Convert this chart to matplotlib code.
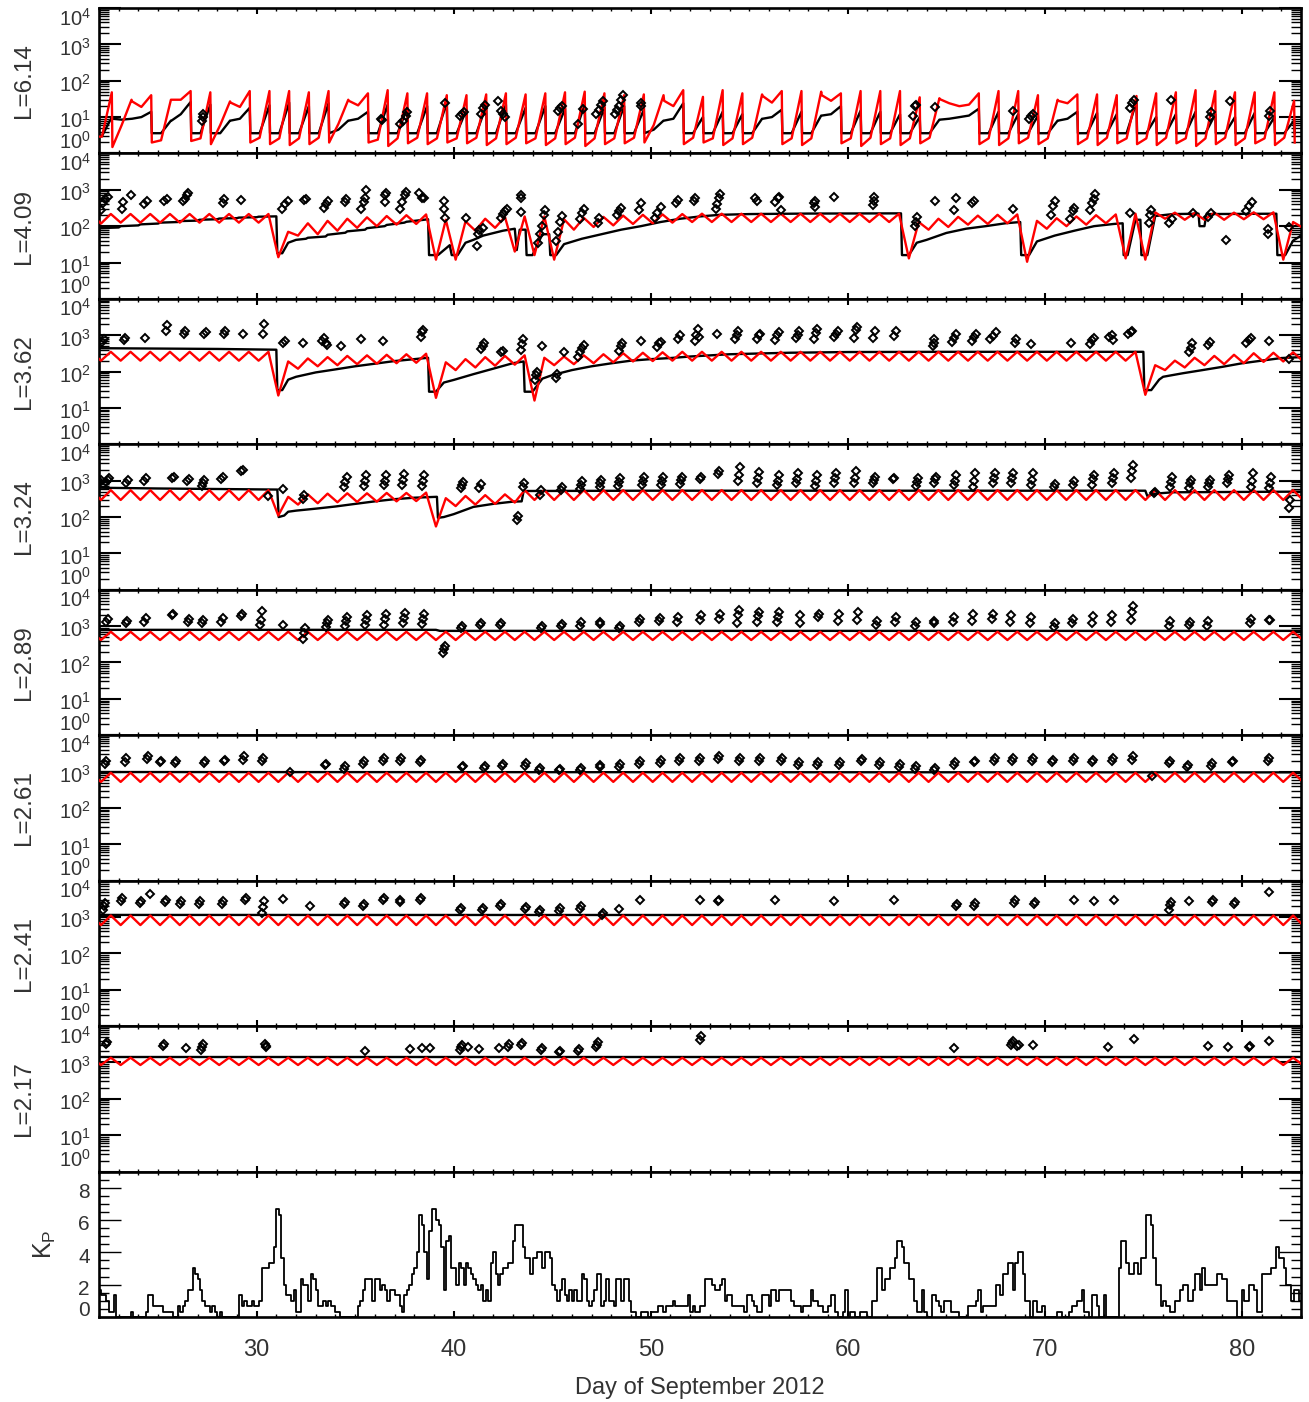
import numpy as np
import matplotlib
matplotlib.use("Agg")
import matplotlib.pyplot as plt
from matplotlib.ticker import MultipleLocator, LogLocator, NullFormatter

plt.rcParams['font.family'] = ['Liberation Sans', 'DejaVu Sans']
plt.rcParams['mathtext.fontset'] = 'custom'
plt.rcParams['mathtext.rm'] = 'Liberation Sans'
plt.rcParams['mathtext.it'] = 'Liberation Sans:italic'
plt.rcParams['mathtext.bf'] = 'Liberation Sans:bold'

TXT = '#333333'

# ---------------- data ----------------
panel_names = ['L=6.14', 'L=4.09', 'L=3.62', 'L=3.24', 'L=2.89', 'L=2.61', 'L=2.41', 'L=2.17']

# L=6.14: one injection cycle per day, peak at 21.65 + j  (value before rise, peak, value just after drop)
red_614_base = [2.9, 2.9, 6, 19, 2.3, 30, 2.6, 6, 19, 2.7,
                2.6, 2.6, 2.7, 6.5, 21, 2.4, 2.6, 2.7, 2.6, 2.6,
                2.7, 2.6, 2.7, 2.6, 2.6, 2.7, 2.6, 2.6, 2.7, 6,
                20, 2.7, 2.6, 2.6, 2.7, 25, 2.6, 2.6, 28, 2.6,
                2.7, 2.6, 2.6, 2.7, 24, 22, 2.6, 2.6, 2.7, 2.6,
                24, 2.6, 2.7, 2.6, 2.6, 2.7, 2.6, 2.6, 2.7, 2.6,
                2.6, 2.7]
red_614_peak = [3.0, 48, 30, 40, 30, 52, 48, 27, 52, 52,
                52, 48, 52, 30, 45, 55, 45, 45, 40, 40,
                42, 45, 42, 45, 48, 50, 45, 40, 42, 40,
                55, 36, 55, 45, 42, 52, 52, 50, 45, 52,
                52, 52, 35, 33, 20, 45, 52, 52, 40, 30,
                42, 42, 40, 38, 45, 48, 55, 52, 48, 48,
                48, 28]
red_614_low = [2.9, 1.5, 27, 2.0, 30, 2.2, 1.8, 25, 2.0, 1.8,
               1.7, 1.8, 2.0, 28, 2.0, 1.6, 1.9, 1.8, 2.0, 1.9,
               1.7, 1.8, 1.9, 1.7, 1.8, 1.6, 1.8, 1.9, 2.0, 28,
               1.8, 2.0, 1.7, 1.8, 38, 1.8, 1.7, 40, 1.9, 1.6,
               1.8, 1.7, 1.9, 31, 20, 1.8, 1.7, 1.9, 1.8, 28,
               1.8, 1.7, 1.9, 1.8, 1.7, 1.9, 1.6, 1.8, 1.7, 1.9,
               1.7, 2.0]
black_614_base = [3.0, 3.0, 8.5, 10, 3.6, 12, 3.6, 3.6, 9, 3.6,
                  3.6, 3.6, 3.6, 4.5, 9, 3.6, 3.6, 3.6, 3.6, 3.6,
                  3.6, 3.6, 3.6, 3.6, 3.6, 3.6, 3.6, 3.6, 3.6, 4.5,
                  9, 3.6, 3.6, 3.6, 3.6, 10, 3.6, 3.6, 12, 3.6,
                  3.6, 3.6, 3.6, 3.6, 9, 11, 3.6, 3.6, 3.6, 3.6,
                  9, 3.6, 3.6, 3.6, 3.6, 3.6, 3.6, 3.6, 3.6, 3.6,
                  3.6, 3.6]
black_614_peak = [3.0, 10, 9, 14, 8, 26, 22, 8, 18, 21,
                  25, 20, 24, 8, 14, 22, 18, 20, 25, 16,
                  20, 22, 18, 20, 17, 22, 18, 20, 16, 8,
                  24, 10, 14, 12, 9, 16, 14, 11, 20, 15,
                  14, 12, 10, 8.5, 10, 17, 14, 12, 11, 8,
                  14, 13, 12, 26, 10, 12, 14, 12, 10, 13,
                  10, 8]
black_614_low = [3.0, 9, 9, 3.6, 8, 3.6, 3.6, 8, 3.6, 3.6,
                 3.6, 3.6, 3.6, 8, 3.6, 3.6, 3.6, 3.6, 3.6, 3.6,
                 3.6, 3.6, 3.6, 3.6, 3.6, 3.6, 3.6, 3.6, 3.6, 8,
                 3.6, 3.6, 3.6, 3.6, 9, 3.6, 3.6, 11, 3.6, 3.6,
                 3.6, 3.6, 3.6, 8.5, 10, 3.6, 3.6, 3.6, 3.6, 8,
                 3.6, 3.6, 3.6, 3.6, 3.6, 3.6, 3.6, 3.6, 3.6, 3.6,
                 3.6, 3.6]

# inner shells: red model, maxima at 21.6 + j, minima at 22.1 + j
red_409_pk = [216, 216, 216, 216, 216, 216, 216, 216, 216, 216,
              70, 120, 140, 160, 175, 190, 200, 210, 150, 135,
              160, 180, 185, 185, 155, 170, 180, 195, 205, 210,
              215, 220, 220, 220, 220, 220, 220, 220, 220, 220,
              220, 220, 130, 160, 180, 195, 205, 210, 140, 165,
              185, 200, 210, 220, 240, 235, 230, 235, 235, 240,
              240, 130]
red_409_tr = [118, 125, 125, 125, 125, 125, 125, 125, 125, 14,
              55, 60, 75, 90, 100, 110, 115, 12, 12, 75,
              90, 20, 16, 12, 80, 95, 105, 115, 120, 125,
              130, 130, 130, 130, 130, 130, 130, 130, 130, 130,
              130, 13, 80, 95, 110, 115, 120, 10.5, 85, 100,
              110, 120, 13, 12, 160, 150, 150, 150, 155, 155,
              12, 90]
red_362_pk = [350, 350, 350, 350, 350, 350, 350, 350, 350, 350,
              190, 230, 250, 270, 280, 290, 300, 310, 180, 220,
              250, 270, 280, 240, 260, 280, 300, 320, 330, 340,
              350, 350, 350, 350, 350, 350, 350, 350, 350, 350,
              350, 350, 350, 350, 350, 350, 350, 350, 350, 350,
              350, 350, 350, 350, 150, 200, 240, 270, 290, 320,
              330, 340]
red_362_tr = [200, 200, 200, 200, 200, 200, 200, 200, 200, 22,
              120, 140, 150, 160, 165, 170, 175, 19, 110, 130,
              145, 155, 16, 150, 160, 170, 180, 190, 195, 200,
              200, 200, 200, 200, 200, 200, 200, 200, 200, 200,
              200, 200, 200, 200, 200, 200, 200, 200, 200, 200,
              200, 200, 200, 23, 110, 130, 150, 160, 170, 185,
              190, 195]
red_324_pk = [550, 550, 550, 550, 550, 550, 550, 550, 550, 550,
              360, 420, 440, 450, 450, 460, 460, 470, 330, 380,
              400, 420, 550, 550, 550, 550, 550, 550, 550, 550,
              550, 550, 550, 550, 550, 550, 550, 550, 550, 550,
              550, 550, 550, 550, 550, 550, 550, 550, 550, 550,
              550, 550, 550, 550, 550, 550, 550, 550, 550, 550,
              550, 550]
red_324_tr = [295, 295, 295, 295, 295, 295, 295, 295, 295, 110,
              220, 240, 255, 260, 265, 270, 275, 55, 200, 220,
              230, 250, 295, 295, 295, 295, 295, 295, 295, 295,
              295, 295, 295, 295, 295, 295, 295, 295, 295, 295,
              295, 295, 295, 295, 295, 295, 295, 295, 295, 295,
              295, 295, 295, 295, 295, 295, 295, 295, 295, 295,
              295, 295]
red_289_pk = [700, 700, 700, 700, 700, 700, 700, 700, 700, 700,
              700, 700, 700, 700, 700, 700, 700, 700, 700, 700,
              700, 700, 700, 700, 700, 700, 700, 700, 700, 700,
              700, 700, 700, 700, 700, 700, 700, 700, 700, 700,
              700, 700, 700, 700, 700, 700, 700, 700, 700, 700,
              700, 700, 700, 700, 700, 700, 700, 700, 700, 700,
              700, 700]
red_289_tr = [415, 415, 415, 415, 415, 415, 415, 415, 415, 415,
              415, 415, 415, 415, 415, 415, 415, 415, 415, 415,
              415, 415, 415, 415, 415, 415, 415, 415, 415, 415,
              415, 415, 415, 415, 415, 415, 415, 415, 415, 415,
              415, 415, 415, 415, 415, 415, 415, 415, 415, 415,
              415, 415, 415, 415, 415, 415, 415, 415, 415, 415,
              415, 415]
red_261_pk = [930, 930, 930, 930, 930, 930, 930, 930, 930, 930,
              930, 930, 930, 930, 930, 930, 930, 930, 930, 930,
              930, 930, 930, 930, 930, 930, 930, 930, 930, 930,
              930, 930, 930, 930, 930, 930, 930, 930, 930, 930,
              930, 930, 930, 930, 930, 930, 930, 930, 930, 930,
              930, 930, 930, 930, 930, 930, 930, 930, 930, 930,
              930, 930]
red_261_tr = [520, 520, 520, 520, 520, 520, 520, 520, 520, 520,
              520, 520, 520, 520, 520, 520, 520, 520, 520, 520,
              520, 520, 520, 520, 520, 520, 520, 520, 520, 520,
              520, 520, 520, 520, 520, 520, 520, 520, 520, 520,
              520, 520, 520, 520, 520, 520, 520, 520, 520, 520,
              520, 520, 520, 520, 520, 520, 520, 520, 520, 520,
              520, 520]
red_241_pk = [1100, 1100, 1100, 1100, 1100, 1100, 1100, 1100, 1100, 1100,
              1100, 1100, 1100, 1100, 1100, 1100, 1100, 1100, 1100, 1100,
              1100, 1100, 1100, 1100, 1100, 1100, 1100, 1100, 1100, 1100,
              1100, 1100, 1100, 1100, 1100, 1100, 1100, 1100, 1100, 1100,
              1100, 1100, 1100, 1100, 1100, 1100, 1100, 1100, 1100, 1100,
              1100, 1100, 1100, 1100, 1100, 1100, 1100, 1100, 1100, 1100,
              1100, 1100]
red_241_tr = [600, 600, 600, 600, 600, 600, 600, 600, 600, 600,
              600, 600, 600, 600, 600, 600, 600, 600, 600, 600,
              600, 600, 600, 600, 600, 600, 600, 600, 600, 600,
              600, 600, 600, 600, 600, 600, 600, 600, 600, 600,
              600, 600, 600, 600, 600, 600, 600, 600, 600, 600,
              600, 600, 600, 600, 600, 600, 600, 600, 600, 600,
              600, 600]
red_217_pk = [1350, 1350, 1350, 1350, 1350, 1350, 1350, 1350, 1350, 1350,
              1350, 1350, 1350, 1350, 1350, 1350, 1350, 1350, 1350, 1350,
              1350, 1350, 1350, 1350, 1350, 1350, 1350, 1350, 1350, 1350,
              1350, 1350, 1350, 1350, 1350, 1350, 1350, 1350, 1350, 1350,
              1350, 1350, 1350, 1350, 1350, 1350, 1350, 1350, 1350, 1350,
              1350, 1350, 1350, 1350, 1350, 1350, 1350, 1350, 1350, 1350,
              1350, 1350]
red_217_tr = [850, 850, 850, 850, 850, 850, 850, 850, 850, 850,
              850, 850, 850, 850, 850, 850, 850, 850, 850, 850,
              850, 850, 850, 850, 850, 850, 850, 850, 850, 850,
              850, 850, 850, 850, 850, 850, 850, 850, 850, 850,
              850, 850, 850, 850, 850, 850, 850, 850, 850, 850,
              850, 850, 850, 850, 850, 850, 850, 850, 850, 850,
              850, 850]

# black model, (day, flux) breakpoints
black_409 = [(22.0, 88), (23.0, 92), (23.1, 100), (24.0, 105), (24.1, 112), (25.0, 118), (25.1, 125),
             (26.0, 130), (26.1, 138), (27.0, 142), (27.1, 150), (28.0, 155), (28.1, 162), (29.0, 166),
             (29.1, 172), (30.0, 176), (30.1, 182), (31.0, 186), (31.05, 18), (31.3, 18), (31.6, 35),
             (32.0, 42), (32.5, 45), (32.6, 48), (33.5, 52), (33.6, 58), (34.5, 66), (34.6, 72),
             (35.5, 80), (35.6, 88), (36.5, 100), (36.6, 108), (37.5, 125), (37.6, 132), (38.5, 150),
             (38.7, 155), (38.75, 16), (39.2, 16), (39.8, 30), (39.9, 16), (40.2, 16), (40.6, 35),
             (41.0, 42), (41.5, 55), (42.5, 75), (43.1, 85), (43.2, 22), (43.35, 80), (43.65, 80),
             (43.7, 16), (44.0, 16), (44.5, 60), (44.85, 60), (44.9, 16), (45.2, 16), (45.6, 32),
             (46.5, 45), (47.5, 60), (48.5, 80), (49.5, 100), (50.5, 130), (51.5, 160), (52.5, 185),
             (53.5, 205), (55.0, 215), (58.0, 222), (62.7, 225), (62.75, 16), (63.1, 16), (63.5, 35),
             (64.0, 42), (65.0, 65), (66.0, 85), (67.0, 100), (68.0, 120), (68.75, 130), (68.8, 16),
             (69.2, 16), (69.6, 38), (70.5, 55), (71.5, 75), (72.5, 100), (73.5, 115), (73.95, 120),
             (74.0, 16), (74.2, 16), (74.6, 150), (74.85, 150), (74.9, 16), (75.2, 16), (75.6, 190),
             (76.5, 215), (77.8, 220), (77.85, 100), (78.1, 100), (78.2, 215), (81.75, 220),
             (81.8, 16), (82.2, 16), (82.6, 40), (83.0, 55)]
black_362 = [(22.0, 440), (25.0, 430), (28.0, 420), (31.0, 400), (31.05, 31), (31.3, 31), (31.6, 60),
             (32.0, 72), (33.0, 95), (34.0, 115), (35.0, 140), (36.0, 165), (37.0, 195), (38.0, 220),
             (38.7, 240), (38.75, 28), (39.1, 28), (39.5, 50), (40.0, 59), (41.0, 85), (42.0, 120),
             (43.0, 170), (43.55, 190), (43.6, 28), (44.0, 28), (44.5, 64), (45.0, 80), (46.0, 110),
             (47.0, 140), (48.0, 169), (49.0, 200), (50.0, 220), (51.0, 236), (52.0, 260), (54.0, 300),
             (57.0, 330), (60.0, 345), (65.0, 350), (75.0, 350), (75.05, 31), (75.4, 31), (75.8, 60),
             (76.0, 72), (77.0, 90), (78.0, 110), (79.0, 135), (80.0, 169), (81.0, 200), (82.0, 236),
             (83.0, 250)]
black_324 = [(22.0, 640), (25.0, 610), (28.0, 590), (31.05, 570), (31.12, 100), (31.4, 110), (31.6, 140),
             (32.0, 150), (33.0, 170), (34.0, 195), (35.0, 230), (36.0, 270), (37.0, 310), (38.0, 340),
             (39.15, 360), (39.2, 95), (39.5, 100), (40.0, 120), (41.0, 190), (42.0, 230), (43.0, 265),
             (43.45, 270), (43.55, 520), (50.0, 530), (60.0, 530), (75.1, 530), (75.2, 380),
             (75.6, 440), (76.5, 480), (83.0, 500)]
black_289 = [(22.0, 790), (39.1, 790), (39.3, 740), (83.0, 740)]
black_261 = [(22.0, 970), (83.0, 950)]
black_241 = [(22.0, 1140), (83.0, 1130)]
black_217 = [(22.0, 1380), (83.0, 1380)]

# observed fluxes (day, flux)
obs_614 = [(27.25, 8), (27.28, 10), (27.3, 12), (36.3, 9), (36.35, 8.5), (37.3, 6.5), (37.45, 8),
           (37.6, 11), (37.65, 13.5), (39.57, 25), (40.3, 11), (40.4, 12), (40.5, 14), (41.4, 12),
           (41.5, 18), (41.6, 22), (42.25, 28), (42.4, 15), (42.5, 12), (42.6, 10), (45.3, 15),
           (45.4, 18), (45.5, 20), (46.3, 6.3), (46.58, 16.5), (47.2, 12), (47.35, 16), (47.5, 22),
           (47.6, 28), (48.2, 12), (48.3, 16), (48.4, 20), (48.5, 30), (48.6, 40), (49.5, 20),
           (49.52, 25), (63.3, 11), (63.4, 20), (63.45, 22), (64.45, 19), (68.4, 15), (69.2, 9),
           (69.3, 10.5), (69.4, 12), (74.3, 18), (74.4, 25), (74.5, 30), (76.4, 29), (78.4, 10),
           (78.45, 14), (79.4, 27), (81.4, 11), (81.42, 15)]
obs_409 = [(22.1, 280), (22.2, 420), (22.3, 560), (22.45, 650), (23.15, 290), (23.2, 450), (23.6, 720),
           (24.3, 400), (24.45, 480), (25.3, 500), (25.45, 560), (26.25, 480), (26.35, 560), (26.45, 700),
           (26.5, 800), (28.3, 430), (28.32, 560), (29.2, 520), (31.3, 300), (31.45, 400), (31.6, 500),
           (32.4, 520), (32.5, 560), (33.4, 320), (33.5, 400), (33.6, 480), (34.5, 450), (34.52, 550),
           (35.3, 300), (35.45, 450), (35.5, 600), (35.55, 980), (36.5, 450), (36.52, 700), (36.55, 820),
           (37.3, 300), (37.4, 450), (37.55, 700), (37.6, 880), (38.25, 800), (38.4, 600), (38.5, 580),
           (39.5, 500), (39.52, 300), (39.55, 170), (40.6, 165), (41.2, 28), (41.25, 60), (41.3, 80),
           (41.5, 90), (42.4, 170), (42.5, 210), (42.6, 260), (42.7, 300), (43.4, 250), (43.41, 600),
           (43.42, 700), (44.3, 35), (44.4, 60), (44.5, 100), (44.6, 200), (44.65, 280), (45.2, 40),
           (45.3, 70), (45.4, 130), (45.5, 190), (46.4, 160), (46.5, 230), (46.6, 300), (47.3, 120),
           (47.35, 170), (48.3, 200), (48.4, 260), (48.5, 320), (49.4, 270), (49.5, 420), (50.2, 170),
           (50.3, 230), (50.5, 330), (51.3, 420), (51.4, 520), (52.2, 480), (52.25, 600), (53.3, 300),
           (53.35, 400), (53.45, 600), (53.5, 750), (55.3, 580), (55.4, 480), (56.3, 450), (56.45, 600),
           (56.5, 620), (56.6, 280), (58.3, 420), (58.32, 480), (58.35, 330), (59.3, 650), (61.3, 380),
           (61.32, 500), (61.35, 620), (63.4, 100), (63.45, 130), (63.5, 180), (64.45, 480), (65.4, 280),
           (65.5, 600), (66.3, 420), (66.4, 480), (68.4, 300), (70.3, 200), (70.4, 350), (70.5, 480),
           (71.3, 160), (71.45, 260), (71.5, 320), (72.3, 280), (72.4, 420), (72.5, 560), (72.55, 780),
           (74.3, 230), (75.3, 120), (75.35, 200), (75.4, 280), (76.3, 120), (76.45, 160), (77.5, 230),
           (78.3, 180), (78.45, 230), (79.2, 42), (80.2, 260), (80.35, 350), (80.5, 450), (81.3, 62),
           (81.35, 85), (82.4, 95)]
obs_362 = [(22.15, 650), (22.25, 800), (23.25, 760), (23.3, 830), (24.35, 840), (25.4, 1350), (25.45, 1900),
           (26.3, 1100), (26.35, 1300), (27.35, 1100), (27.45, 1250), (28.35, 1050), (28.4, 1300),
           (29.3, 1100), (30.3, 1100), (30.35, 2100), (31.35, 600), (31.45, 680), (32.35, 630),
           (33.3, 700), (33.4, 830), (33.5, 600), (33.55, 550), (34.3, 520), (35.3, 780), (36.4, 700),
           (38.35, 900), (38.4, 1200), (38.45, 1400), (41.4, 420), (41.5, 520), (41.55, 600), (42.4, 350),
           (42.5, 380), (43.4, 400), (43.45, 580), (43.5, 780), (44.15, 60), (44.2, 80), (44.25, 100),
           (44.5, 520), (45.2, 65), (45.25, 85), (45.6, 340), (46.3, 250), (46.4, 340), (46.5, 450),
           (46.6, 550), (48.4, 380), (48.5, 500), (48.55, 600), (49.5, 680), (50.3, 480), (50.4, 600),
           (50.5, 650), (51.4, 800), (51.5, 1000), (52.25, 700), (52.3, 1000), (52.4, 1500), (52.45, 900),
           (53.35, 1100), (54.3, 800), (54.4, 1000), (54.45, 1300), (55.4, 800), (55.5, 1000), (55.55, 1100),
           (56.3, 750), (56.4, 1000), (56.5, 1250), (57.35, 850), (57.45, 1000), (57.5, 1300), (58.3, 800),
           (58.4, 1150), (58.45, 1500), (59.3, 900), (59.4, 1050), (59.5, 1300), (60.3, 850), (60.4, 1400),
           (60.45, 1700), (61.3, 850), (61.4, 1300), (62.35, 950), (62.45, 1300), (64.3, 520), (64.35, 600),
           (64.4, 780), (65.3, 650), (65.4, 850), (65.5, 1100), (66.3, 700), (66.4, 900), (66.5, 1100),
           (67.2, 780), (67.35, 950), (67.5, 1200), (68.5, 620), (68.52, 800), (69.3, 580), (71.35, 600),
           (72.3, 560), (72.4, 720), (72.5, 850), (73.25, 900), (73.4, 1000), (73.45, 750), (74.2, 1050),
           (74.35, 1200), (74.4, 1350), (77.3, 350), (77.4, 450), (77.45, 600), (78.3, 550), (78.4, 650),
           (80.2, 620), (80.35, 750), (80.45, 850), (81.4, 680), (82.4, 220)]
obs_324 = [(22.05, 900), (22.1, 1050), (22.35, 900), (22.45, 1050), (22.5, 1150), (23.35, 850), (23.45, 1050),
           (24.3, 950), (24.4, 1150), (25.7, 1150), (25.8, 1300), (26.45, 950), (26.55, 1100), (27.25, 700),
           (27.3, 850), (27.35, 1050), (28.2, 1100), (28.3, 1300), (29.2, 1800), (29.3, 2000), (30.6, 380),
           (31.35, 600), (32.35, 320), (32.4, 400), (34.45, 650), (34.5, 900), (34.6, 1300), (35.45, 700),
           (35.5, 950), (35.55, 1400), (36.45, 750), (36.5, 1000), (36.55, 1450), (37.4, 750), (37.45, 1050),
           (37.5, 1550), (38.4, 700), (38.45, 950), (38.5, 1400), (40.35, 620), (40.4, 760), (40.45, 900),
           (41.3, 620), (41.4, 800), (43.2, 85), (43.25, 110), (43.5, 690), (43.55, 850), (44.4, 400),
           (44.45, 550), (45.45, 560), (45.5, 690), (46.4, 600), (46.45, 750), (46.5, 950), (47.4, 650),
           (47.45, 850), (47.5, 1050), (48.35, 700), (48.4, 900), (48.45, 1150), (49.55, 750), (49.6, 1000),
           (49.65, 1300), (50.5, 760), (50.55, 1000), (50.6, 1300), (51.5, 800), (51.55, 1050), (51.6, 1300),
           (52.5, 1100), (52.55, 1300), (53.4, 1500), (53.45, 1800), (54.45, 1000), (54.5, 1400),
           (54.55, 2400), (55.4, 850), (55.45, 1200), (55.5, 1700), (56.4, 760), (56.45, 1000), (56.5, 1450),
           (57.35, 850), (57.4, 1100), (57.45, 1600), (58.35, 700), (58.4, 1000), (58.45, 1450), (59.3, 850),
           (59.35, 1150), (59.4, 1600), (60.3, 850), (60.35, 1200), (60.4, 1800), (61.3, 850), (61.35, 1050),
           (61.4, 1300), (62.3, 1100), (62.35, 1200), (63.45, 700), (63.5, 900), (63.55, 1150), (64.4, 850),
           (64.45, 1100), (64.5, 1300), (65.4, 760), (65.45, 1000), (65.5, 1450), (66.35, 690), (66.4, 950),
           (66.45, 1600), (67.35, 850), (67.4, 1200), (67.45, 1600), (68.3, 850), (68.35, 1150), (68.4, 1600),
           (69.3, 760), (69.35, 1050), (69.4, 1600), (70.45, 690), (70.5, 800), (71.45, 760), (71.5, 950),
           (72.4, 760), (72.45, 1100), (72.5, 1450), (73.4, 850), (73.45, 1200), (73.5, 1600), (74.35, 1150),
           (74.4, 1800), (74.45, 2700), (75.55, 450), (75.6, 500), (76.35, 690), (76.4, 900), (76.45, 1300),
           (77.3, 620), (77.35, 850), (77.4, 1050), (78.3, 690), (78.35, 850), (78.4, 1050), (79.25, 850),
           (79.3, 1100), (79.35, 1450), (80.45, 690), (80.5, 1000), (80.55, 1600), (81.4, 620), (81.45, 850),
           (81.5, 1300), (82.4, 180), (82.45, 300)]
obs_289 = [(22.35, 1300), (22.45, 1600), (23.35, 1200), (23.4, 1400), (24.3, 1300), (24.4, 1700),
           (25.7, 2000), (25.75, 2200), (26.5, 1300), (26.55, 1600), (27.25, 1250), (27.3, 1500),
           (28.2, 1300), (28.3, 1700), (29.2, 1900), (29.25, 2100), (30.15, 1100), (30.2, 1500),
           (30.25, 2600), (31.35, 1100), (32.35, 450), (32.4, 650), (32.45, 900), (33.5, 950),
           (33.55, 1250), (33.6, 1450), (34.5, 1000), (34.55, 1400), (34.6, 1800), (35.5, 1050),
           (35.55, 1500), (35.6, 2000), (36.45, 1100), (36.5, 1600), (36.55, 2100), (37.45, 1200),
           (37.5, 1700), (37.55, 2300), (38.4, 1150), (38.45, 1600), (38.5, 2100), (39.45, 180),
           (39.5, 230), (39.55, 290), (40.35, 880), (40.4, 1000), (41.35, 1050), (41.4, 1200),
           (42.35, 1050), (42.4, 1200), (44.45, 880), (44.5, 1000), (45.45, 1000), (45.5, 1150),
           (46.4, 1000), (46.45, 1300), (47.4, 1150), (47.45, 1300), (48.4, 900), (48.45, 1000),
           (49.4, 1300), (49.45, 1600), (50.4, 1350), (50.45, 1700), (51.35, 1300), (51.4, 1800),
           (52.5, 1450), (52.55, 2000), (53.45, 1600), (53.5, 2100), (54.4, 1250), (54.45, 2000),
           (54.5, 2700), (55.4, 1300), (55.45, 1900), (55.5, 2500), (56.4, 1300), (56.45, 1800),
           (56.5, 2500), (57.55, 1250), (57.6, 2000), (58.5, 1800), (58.55, 2200), (59.5, 1400),
           (59.55, 2200), (60.45, 1500), (60.5, 2400), (61.45, 1100), (61.5, 1400), (62.4, 1300),
           (62.45, 1800), (63.4, 1000), (63.45, 1300), (64.35, 1200), (64.4, 1400), (65.35, 1300),
           (65.4, 1800), (66.3, 1350), (66.35, 2200), (67.3, 1600), (67.35, 2200), (68.25, 1300),
           (68.3, 2000), (69.25, 1250), (69.3, 1800), (70.45, 960), (70.5, 1250), (71.4, 1200),
           (71.45, 1600), (72.4, 1200), (72.45, 1900), (73.35, 1300), (73.4, 2000), (74.35, 1500),
           (74.4, 2500), (74.45, 3500), (76.3, 1000), (76.35, 1400), (77.3, 1100), (77.35, 1300),
           (78.25, 1000), (78.3, 1400), (80.4, 1200), (80.45, 1600), (81.4, 1450), (81.45, 1500)]
obs_261 = [(22.3, 1600), (22.35, 2000), (23.3, 1800), (23.35, 2300), (24.45, 2200), (24.5, 2600),
           (25.1, 1800), (25.15, 2000), (25.85, 1700), (25.9, 1900), (27.35, 1750), (27.4, 1900),
           (28.35, 1900), (28.4, 2100), (29.3, 2100), (29.35, 2600), (30.25, 2000), (30.3, 2300),
           (31.7, 950), (33.45, 1500), (33.5, 1600), (34.45, 1200), (34.5, 1400), (35.4, 1600),
           (35.45, 1900), (36.4, 1900), (36.45, 2300), (37.3, 2000), (37.35, 2400), (38.3, 1800),
           (38.35, 2100), (40.4, 1300), (40.45, 1450), (41.55, 1250), (41.6, 1400), (42.45, 1400),
           (42.5, 1600), (43.6, 1450), (43.65, 1700), (44.35, 1100), (44.4, 1250), (45.35, 1100),
           (45.4, 1200), (46.4, 1100), (46.45, 1250), (47.4, 1300), (47.45, 1500), (48.4, 1350),
           (48.45, 1600), (49.4, 1600), (49.45, 2000), (50.45, 1700), (50.5, 2100), (51.45, 1900),
           (51.5, 2300), (52.45, 1900), (52.5, 2300), (53.4, 2200), (53.45, 2600), (54.5, 1900),
           (54.55, 2300), (55.5, 1900), (55.55, 2400), (56.6, 1900), (56.65, 2300), (57.45, 1500),
           (57.5, 1800), (58.45, 1500), (58.5, 1800), (59.55, 1500), (59.6, 1800), (60.65, 1900),
           (60.7, 2200), (61.6, 1500), (61.65, 1800), (62.6, 1300), (62.65, 1600), (63.4, 1200),
           (63.45, 1400), (64.4, 1100), (64.45, 1250), (65.4, 1500), (65.45, 1800), (66.4, 1800),
           (66.45, 2000), (67.4, 1900), (67.45, 2300), (68.35, 1900), (68.4, 2300), (69.35, 1900),
           (69.4, 2300), (70.35, 1800), (70.4, 2100), (71.45, 1900), (71.5, 2400), (72.4, 1800),
           (72.45, 2100), (73.4, 1900), (73.45, 2400), (74.4, 2100), (74.45, 2700), (75.45, 750),
           (76.3, 1700), (76.35, 2000), (77.2, 1300), (77.25, 1500), (78.45, 1400), (78.5, 1700),
           (79.5, 1800), (79.55, 2000), (81.35, 2000), (81.4, 2400)]
obs_241 = [(22.2, 1600), (22.25, 2000), (22.3, 2500), (23.1, 2800), (23.15, 3300), (24.1, 2400),
           (24.15, 2800), (24.6, 4200), (25.35, 2600), (25.4, 3000), (26.1, 2300), (26.15, 2700),
           (27.1, 2300), (27.15, 2700), (28.25, 2300), (28.3, 2700), (29.4, 2900), (29.45, 3400),
           (30.25, 1300), (30.3, 1900), (30.35, 2700), (31.35, 3100), (32.7, 2000), (34.45, 2300),
           (34.5, 2600), (35.4, 2000), (35.45, 2300), (36.4, 2900), (36.45, 3300), (37.25, 2600),
           (37.3, 3000), (38.3, 2900), (38.35, 3300), (40.3, 1600), (40.35, 1800), (41.45, 1600),
           (41.5, 1800), (42.35, 2000), (42.4, 2300), (43.6, 1700), (43.65, 1900), (44.35, 1400),
           (44.4, 1600), (45.35, 1500), (45.4, 1800), (46.4, 1700), (46.45, 2000), (47.55, 1100),
           (47.6, 1300), (48.4, 1700), (49.45, 3000), (52.5, 3000), (53.4, 2700), (53.45, 3000),
           (56.3, 3000), (59.3, 2700), (62.35, 3000), (65.5, 2000), (65.55, 2300), (66.4, 2000),
           (66.45, 2400), (68.45, 2400), (68.5, 3000), (69.45, 2300), (69.5, 2600), (71.5, 3000),
           (72.5, 2700), (73.5, 3000), (76.3, 1600), (76.35, 2200), (76.4, 2600), (77.3, 2700),
           (78.5, 2600), (78.55, 2900), (79.6, 2300), (79.65, 2600), (81.4, 5000)]
obs_217 = [(22.35, 3200), (22.4, 3700), (25.25, 2800), (25.3, 3200), (26.4, 2500), (27.2, 2200),
           (27.25, 2700), (27.3, 3300), (30.4, 3300), (30.45, 2900), (30.5, 2600), (35.5, 2000),
           (37.8, 2400), (38.4, 2500), (38.8, 2500), (40.3, 2200), (40.35, 2700), (40.4, 3000),
           (40.75, 2600), (41.3, 2300), (42.3, 2500), (42.75, 2700), (42.8, 3200), (43.4, 3000),
           (43.45, 3500), (44.45, 2200), (44.5, 2500), (45.35, 1900), (45.4, 2100), (46.3, 2100),
           (46.35, 2400), (47.2, 2600), (47.25, 3100), (47.3, 3600), (52.5, 4200), (52.55, 5200),
           (65.4, 2500), (68.3, 3000), (68.35, 3500), (68.4, 4000), (68.6, 2800), (68.7, 3100),
           (69.4, 3000), (73.2, 2600), (74.5, 4500), (78.3, 2800), (79.3, 2600), (80.35, 2600),
           (80.4, 2900), (81.4, 3800)]

# 3-hourly Kp, Sep 22 00UT onward (one row per day)
kp = [1.67, 1.33, 1.33, 1.0, 0.33, 0.33, 1.33, 0,
      0, 0, 0, 0, 0, 0.33, 0, 0,
      0, 0, 0, 0.33, 1.33, 1.33, 0.67, 0.67,
      0.67, 0.67, 0.33, 0.33, 0.33, 0.33, 0, 0,
      0.67, 0.33, 0.67, 1.0, 1.67, 1.67, 3.0, 2.67,
      2.33, 1.67, 1.0, 0.67, 0.67, 0.33, 0.67, 0.33,
      0, 0.33, 0, 0, 0, 0, 0, 0,
      0, 1.33, 0.67, 1.0, 0.67, 0.67, 1.0, 0.67,
      0.67, 1.0, 3.0, 3.0, 3.0, 3.33, 3.33, 4.33,
      6.67, 6.33, 3.67, 2.0, 1.33, 1.33, 1.0, 1.67,
      0.33, 0.33, 2.33, 2.0, 2.0, 1.0, 2.67, 2.33,
      1.67, 0.67, 0.67, 1.0, 0.67, 1.0, 0.67, 0.67,
      0.33, 0.33, 0, 0, 0, 0, 0, 0,
      0, 0.67, 1.0, 1.67, 2.33, 2.33, 2.33, 1.0,
      2.33, 2.33, 1.67, 2.0, 1.67, 1.0, 1.67, 1.67,
      1.33, 1.33, 0.67, 0.33, 1.33, 1.67, 2.0, 2.67,
      3.0, 4.0, 6.33, 5.67, 4.0, 2.33, 5.33, 6.67,
      6.67, 6.0, 5.67, 4.33, 1.67, 4.67, 5.0, 3.0,
      3.0, 2.0, 3.33, 3.0, 2.0, 3.33, 3.0, 2.67,
      2.33, 2.0, 1.67, 2.0, 1.0, 1.67, 1.0, 3.33,
      4.0, 2.67, 2.0, 2.67, 3.0, 3.0, 3.33, 3.33,
      4.67, 5.67, 5.67, 5.67, 4.33, 3.67, 3.67, 2.67,
      3.67, 3.67, 4.0, 4.0, 3.0, 4.0, 4.0, 3.67,
      2.0, 1.67, 1.0, 1.67, 2.33, 1.33, 1.0, 1.67,
      1.0, 1.67, 1.0, 1.0, 2.67, 2.33, 1.0, 0.67,
      1.0, 1.67, 2.67, 2.67, 0.67, 1.0, 2.33, 1.0,
      1.0, 0.67, 2.33, 2.33, 1.0, 2.33, 2.33, 1.0,
      0.33, 0.33, 0, 0, 0.33, 0.33, 0.33, 0,
      0.33, 0.33, 0.33, 0.67, 0.67, 0.33, 0.67, 0.67,
      0.67, 1.0, 0.67, 0.67, 0.67, 0.67, 0.67, 1.33,
      0.33, 0.67, 0.33, 0.33, 0.67, 0.67, 2.33, 2.33,
      2.33, 2.0, 1.67, 1.67, 2.0, 2.33, 1.0, 1.33,
      1.33, 0.67, 0.67, 0.67, 0.67, 0.67, 0.33, 1.33,
      1.33, 1.0, 0.67, 0.33, 0.33, 1.33, 1.33, 1.33,
      0.67, 1.67, 1.67, 1.0, 1.67, 1.67, 1.67, 1.67,
      1.67, 1.0, 0.67, 0.67, 0.67, 0.33, 0.67, 0.67,
      0.67, 1.67, 1.0, 1.0, 0.67, 0.67, 0.33, 0.33,
      0.67, 1.33, 1.33, 0.33, 0, 0, 0.33, 1.67,
      0, 0.33, 0.33, 0, 0, 0.33, 0.33, 0.33,
      0, 0, 1.0, 1.0, 3.0, 3.0, 1.67, 2.33,
      2.33, 3.0, 3.0, 3.67, 4.67, 4.67, 4.33, 3.33,
      3.33, 2.33, 2.33, 1.0, 0.33, 0.33, 1.67, 0.33,
      0, 0, 1.33, 1.33, 1.0, 0.67, 0.33, 1.0,
      1.0, 1.0, 0.33, 0.33, 0.33, 0, 0, 0,
      0, 0.67, 0.67, 0.67, 1.0, 1.67, 0.33, 0.67,
      0.67, 0.67, 0.67, 0.67, 2.0, 2.0, 1.33, 2.67,
      2.67, 3.33, 3.33, 1.67, 3.33, 4.0, 4.0, 2.67,
      1.0, 1.0, 0, 1.0, 1.0, 0.33, 0.33, 0.67,
      0, 0, 0, 0, 0, 0.33, 0.33, 0,
      0, 0, 0.33, 0.67, 0.67, 1.0, 1.0, 1.67,
      0.33, 0.33, 0, 1.33, 1.33, 0.67, 0, 0,
      1.33, 0, 0, 0, 0, 0, 3.0, 4.67,
      4.67, 3.33, 2.67, 2.67, 3.33, 3.33, 2.67, 3.67,
      3.67, 6.33, 6.33, 5.67, 3.67, 2.0, 2.0, 0.67,
      1.0, 0.67, 0.67, 0.33, 0.33, 1.0, 1.0, 1.67,
      2.0, 2.0, 1.0, 1.0, 1.67, 2.67, 2.67, 1.67,
      3.0, 2.0, 2.0, 2.0, 2.0, 2.0, 2.67, 2.67,
      2.33, 2.33, 1.0, 1.0, 1.0, 1.0, 0, 0,
      1.67, 1.0, 1.0, 2.0, 2.0, 1.67, 0.33, 0.33,
      2.67, 2.67, 2.67, 2.67, 3.0, 3.0, 4.33, 3.67,
      3.67, 3.0, 2.0, 2.0, 1.0, 1.67, 1.67, 1.0]

kp_ticks = [0, 2, 4, 6, 8]
x_ticks = [30, 40, 50, 60, 70, 80]

# ---------------- figure ----------------
W, H = 1309, 1402
fig = plt.figure(figsize=(W / 100, H / 100), dpi=100)
X0, X1, TOP, PH = 99, 1301, 8, 145.44


def rect(i):
    return [X0 / W, 1 - (TOP + PH * (i + 1)) / H, (X1 - X0) / W, PH / H]


def style_axes(ax):
    for s in ax.spines.values():
        s.set_linewidth(1.9)
    ax.set_xlim(22, 83)
    ax.xaxis.set_major_locator(MultipleLocator(10))
    ax.xaxis.set_minor_locator(MultipleLocator(1))
    ax.tick_params(axis='both', which='both', direction='in', top=True, right=True,
                   labelleft=False, labelbottom=False)
    ax.tick_params(axis='x', which='major', length=4, width=1.5)
    ax.tick_params(axis='x', which='minor', length=2.5, width=1.0)


def zigzag(pk, tr):
    tp = np.arange(len(pk)) + 21.6
    t = np.column_stack([tp, tp + 0.5]).ravel()
    v = np.column_stack([pk, tr]).ravel()
    return t, v


def sawtooth(base, peak, low):
    tc = np.arange(len(peak)) + 21.65
    t = np.column_stack([tc - 0.5, tc, tc + 0.03]).ravel()
    v = np.column_stack([base, peak, low]).ravel()
    return t, v


red_lines = [sawtooth(red_614_base, red_614_peak, red_614_low),
             zigzag(red_409_pk, red_409_tr), zigzag(red_362_pk, red_362_tr),
             zigzag(red_324_pk, red_324_tr), zigzag(red_289_pk, red_289_tr),
             zigzag(red_261_pk, red_261_tr), zigzag(red_241_pk, red_241_tr),
             zigzag(red_217_pk, red_217_tr)]
black_lines = [sawtooth(black_614_base, black_614_peak, black_614_low)] + \
    [tuple(np.array(b).T) for b in (black_409, black_362, black_324, black_289,
                                    black_261, black_241, black_217)]
observations = [obs_614, obs_409, obs_362, obs_324, obs_289, obs_261, obs_241, obs_217]

label_dy = {4: -7.5, 3: -3, 2: -3, 1: -3, 0: 8.5}

for i, name in enumerate(panel_names):
    ax = fig.add_axes(rect(i))
    style_axes(ax)
    ax.set_yscale('log')
    ax.set_ylim(1, 1e4)
    ax.yaxis.set_major_locator(LogLocator(base=10, numticks=10))
    ax.yaxis.set_minor_locator(LogLocator(base=10, subs=np.arange(2, 10), numticks=10))
    ax.yaxis.set_minor_formatter(NullFormatter())
    ax.tick_params(axis='y', which='major', length=16, width=1.5)
    ax.tick_params(axis='y', which='minor', length=7, width=1.0)

    bt, bv = black_lines[i]
    ax.plot(bt, bv, color='black', lw=1.7, zorder=2)
    rt, rv = red_lines[i]
    ax.plot(rt, rv, color='#ff0000', lw=1.7, zorder=3)
    ot, ov = np.array(observations[i]).T
    ax.plot(ot, ov, ls='none', marker='D', ms=3.8, mfc='none', mec='black', mew=1.4, zorder=4)

    for n in range(5):
        ax.annotate('$10^{%d}$' % n, xy=(0, 10.0 ** n), xycoords=('axes fraction', 'data'),
                    xytext=(-6, label_dy[n]), textcoords='offset points', ha='right', va='center',
                    fontsize=14.5, color=TXT, annotation_clip=False)
    fig.text(24 / W, 1 - (TOP + PH * (i + 0.5)) / H, name, rotation=90, ha='center', va='center',
             fontsize=17.5, color=TXT)

# Kp panel
ax = fig.add_axes(rect(8))
style_axes(ax)
ax.set_ylim(0, 9)
ax.yaxis.set_major_locator(MultipleLocator(2))
ax.yaxis.set_minor_locator(MultipleLocator(0.5))
ax.tick_params(axis='y', which='major', length=16, width=1.0)
ax.tick_params(axis='y', which='minor', length=7, width=1.0)
kt = 22 + np.arange(len(kp) + 1) / 8.0
ax.plot(kt, kp + [kp[-1]], drawstyle='steps-post', color='black', lw=1.3)
for k in kp_ticks:
    ax.annotate(str(k), xy=(0, k), xycoords=('axes fraction', 'data'),
                xytext=(-6.5, 5 if k == 0 else -3.6), textcoords='offset points',
                ha='right', va='center', fontsize=15, color=TXT, annotation_clip=False)
ax.set_xticks(x_ticks)
ax.tick_params(axis='x', which='major', labelbottom=True, labelsize=17, labelcolor=TXT, pad=16)
fig.text(45 / W, 1 - (TOP + PH * 8.5) / H, r'$\mathregular{K_P}$', rotation=90, ha='center',
         va='center', fontsize=18, color=TXT)
fig.text(700 / W, 1 - 1388 / H, 'Day of September 2012', ha='center', va='center',
         fontsize=17, color=TXT)

fig.savefig('out.png', dpi=100)
